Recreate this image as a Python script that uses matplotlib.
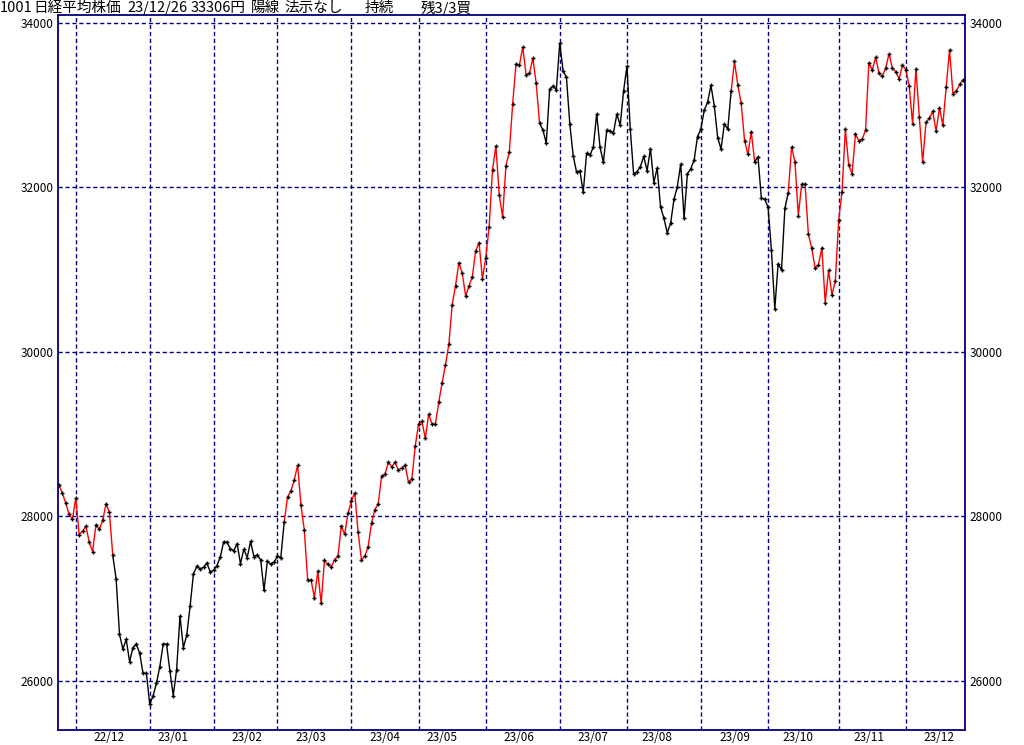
import matplotlib
matplotlib.use("Agg")
import numpy as np
import matplotlib.pyplot as plt

# trading days per month (Nikkei 225, 2022/11/24 - 2023/12/26)
month_names = ['22/11', '22/12', '23/01', '23/02', '23/03', '23/04', '23/05',
               '23/06', '23/07', '23/08', '23/09', '23/10', '23/11', '23/12']
month_days = [
    [24, 25, 28, 29, 30],
    [1, 2, 5, 6, 7, 8, 9, 12, 13, 14, 15, 16, 19, 20, 21, 22, 23, 26, 27, 28, 29, 30],
    [4, 5, 6, 10, 11, 12, 13, 16, 17, 18, 19, 20, 23, 24, 25, 26, 27, 30, 31],
    [1, 2, 3, 6, 7, 8, 9, 10, 13, 14, 15, 16, 17, 20, 21, 22, 24, 27, 28],
    [1, 2, 3, 6, 7, 8, 9, 10, 13, 14, 15, 16, 17, 20, 22, 23, 24, 27, 28, 29, 30, 31],
    [3, 4, 5, 6, 7, 10, 11, 12, 13, 14, 17, 18, 19, 20, 21, 24, 25, 26, 27, 28],
    [1, 2, 8, 9, 10, 11, 12, 15, 16, 17, 18, 19, 22, 23, 24, 25, 26, 29, 30, 31],
    [1, 2, 5, 6, 7, 8, 9, 12, 13, 14, 15, 16, 19, 20, 21, 22, 23, 26, 27, 28, 29, 30],
    [3, 4, 5, 6, 7, 10, 11, 12, 13, 14, 18, 19, 20, 21, 24, 25, 26, 27, 28, 31],
    [1, 2, 3, 4, 7, 8, 9, 10, 14, 15, 16, 17, 18, 21, 22, 23, 24, 25, 28, 29, 30, 31],
    [1, 4, 5, 6, 7, 8, 11, 12, 13, 14, 15, 19, 20, 21, 22, 25, 26, 27, 28, 29],
    [2, 3, 4, 5, 6, 10, 11, 12, 13, 16, 17, 18, 19, 20, 23, 24, 25, 26, 27, 30, 31],
    [1, 2, 6, 7, 8, 9, 10, 13, 14, 15, 16, 17, 20, 21, 22, 24, 27, 28, 29, 30],
    [1, 4, 5, 6, 7, 8, 11, 12, 13, 14, 15, 18, 19, 20, 21, 22, 25, 26],
]

close = [
    28383, 28283, 28162, 28027, 27968,
    28226, 27777, 27820, 27885, 27686, 27574, 27901, 27842, 27954, 28156, 28051,
    27527, 27237, 26568, 26387, 26507, 26235, 26405, 26447, 26340, 26093, 26095,
    25717, 25820, 25974, 26175, 26447, 26449, 26120, 25822, 26138, 26791, 26405,
    26554, 26907, 27299, 27395, 27362, 27383, 27433, 27327,
    27346, 27402, 27509, 27694, 27685, 27606, 27584, 27670, 27427, 27602, 27501,
    27696, 27513, 27531, 27473, 27104, 27453, 27423, 27445,
    27516, 27498, 27927, 28237, 28309, 28444, 28623, 28143, 27832, 27222, 27229,
    27010, 27333, 26945, 27466, 27419, 27385, 27476, 27518, 27883, 27782, 28041,
    28188, 28287, 27813, 27472, 27518, 27633, 27923, 28082, 28157, 28493, 28514,
    28658, 28606, 28657, 28564, 28593, 28620, 28416, 28457, 28856,
    29123, 29157, 28949, 29242, 29122, 29126, 29388, 29626, 29842, 30093, 30573,
    30808, 31086, 30957, 30682, 30801, 30916, 31233, 31328, 30887,
    31148, 31524, 32217, 32506, 31913, 31641, 32265, 32434, 33018, 33502, 33485,
    33706, 33370, 33388, 33575, 33265, 32781, 32698, 32538, 33193, 33234, 33189,
    33753, 33422, 33338, 32773, 32388, 32189, 32203, 31943, 32419, 32391, 32493,
    32896, 32490, 32304, 32700, 32682, 32668, 32891, 32759, 33172,
    33476, 32707, 32159, 32192, 32254, 32377, 32204, 32473, 32059, 32238, 31766,
    31626, 31450, 31565, 31856, 32010, 32287, 31624, 32169, 32227, 32333, 32619,
    32710, 32939, 33036, 33241, 32991, 32606, 32467, 32776, 32706, 33168, 33533,
    33242, 33023, 32571, 32402, 32678, 32315, 32371, 31872, 31857,
    31759, 31237, 30526, 31075, 30994, 31746, 31936, 32494, 32315, 31659, 32040,
    32042, 31430, 31259, 31019, 31062, 31269, 30601, 30991, 30696, 30858,
    31601, 31949, 32708, 32272, 32166, 32646, 32568, 32585, 32695, 33519, 33424,
    33585, 33388, 33354, 33452, 33625, 33447, 33408, 33321, 33487,
    33431, 33231, 32775, 33445, 32858, 32307, 32791, 32843, 32926, 32686, 32970,
    32758, 33219, 33675, 33141, 33169, 33255, 33306,
]

# trend state runs (segment i -> i+1 takes colour of day i)
trend_runs = [('red', 16), ('black', 51), ('red', 76), ('black', 57),
              ('red', 7), ('black', 10), ('red', 53)]

y_ticks = [26000, 28000, 30000, 32000, 34000]

header = [(0, '1001'), (33, '日経平均株価'), (127, '23/12/26'), (191, '33306円'),
          (251, '陽線'), (284, '法示なし'), (365, '持続'), (421, '残3/3買')]

plt.rcParams['font.family'] = ['Noto Sans CJK JP', 'DejaVu Sans']
navy = '#000080'

fig = plt.figure(figsize=(10.24, 7.45), dpi=100)
ax = fig.add_axes([58 / 1024, 15 / 745, 907 / 1024, 715 / 745])

x = np.arange(len(close))
y = np.array(close, dtype=float)

# month boundaries and mid-month label positions
starts, mids = [], []
i = 0
for days in month_days:
    starts.append(i)
    k = next(j for j, d in enumerate(days + [99]) if d >= 15)
    mids.append(i + min(k, len(days) - 1))
    i += len(days)

for s in starts[1:]:
    ax.axvline(s, color=navy, lw=1, ls=(0, (3, 2)), zorder=1)
for v in y_ticks:
    ax.axhline(v, color=navy, lw=1, ls=(0, (3, 2)), zorder=1)

# coloured trend line
pos = 0
for col, n in trend_runs:
    end = min(pos + n, len(close) - 1)
    ax.plot(x[pos:end + 1], y[pos:end + 1], color=col, lw=1, zorder=2,
            solid_joinstyle='miter')
    pos += n

ax.plot(x, y, ls='none', marker='+', ms=3, mew=1, color='black', zorder=3)

ax.set_xlim(-0.3, 269.6)
ax.set_ylim(25404, 34097)

ax.set_yticks(y_ticks)
ax.set_yticklabels([str(v) for v in y_ticks])
ax.tick_params(axis='y', length=0, pad=3, labelsize=8.5, labelright=True,
               right=True, colors='black')
ax.set_xticks(mids[1:])
ax.set_xticklabels(month_names[1:])
ax.tick_params(axis='x', length=0, pad=1, labelsize=8.5)

for sp in ax.spines.values():
    sp.set_color(navy)
    sp.set_linewidth(1.3)

for px, txt in header:
    fig.text(px / 1024, 1 - 8 / 745, txt, fontsize=10.5, ha='left', va='center')

fig.savefig('out.png', dpi=100)
